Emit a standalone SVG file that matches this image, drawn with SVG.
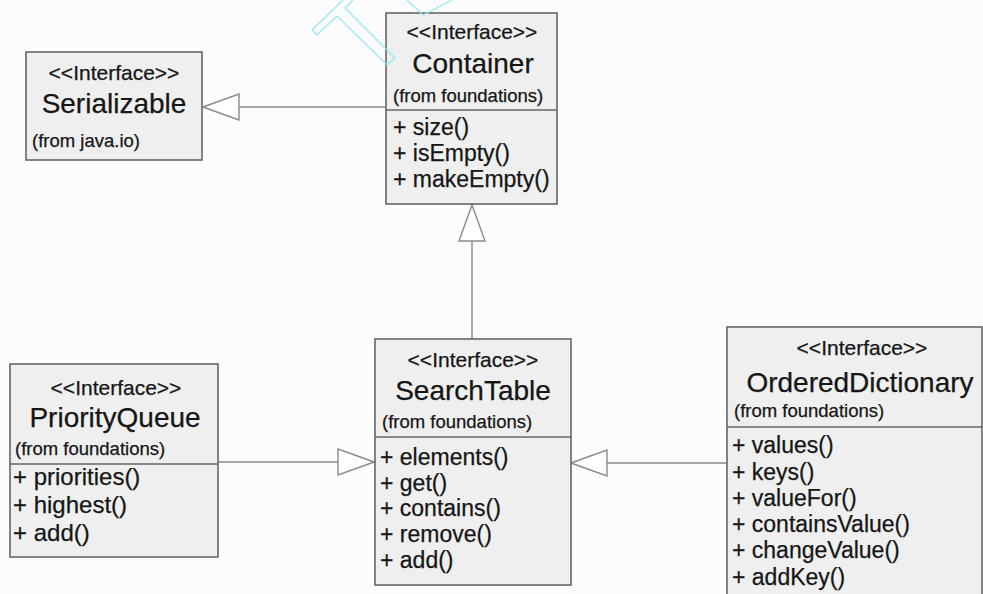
<svg xmlns="http://www.w3.org/2000/svg" width="983" height="594" viewBox="0 0 983 594">
<style>
.box{fill:#efefef;stroke:#666666;stroke-width:1.6}
.div{stroke:#666666;stroke-width:1.6}
.t{font-family:"Liberation Sans",Arial,sans-serif;fill:#161616;stroke:#161616;stroke-width:0.25}
.st{font-size:21px;text-anchor:middle}
.nm{font-size:28px;text-anchor:middle}
.fr{font-size:18.5px}
.op{font-size:23px}
.opl{font-size:24px}
.conn{stroke:#8a8a8a;stroke-width:1.4;fill:none;marker-start:url(#gen)}
.wm{fill:none;stroke:#8ae8f2;stroke-width:1.1}
</style>
<defs>
<marker id="gen" markerUnits="userSpaceOnUse" viewBox="-1 -1 39 28" markerWidth="39" markerHeight="28" refX="0" refY="13" orient="auto">
<path d="M0,13 L36,0 L36,26 Z" fill="#ffffff" stroke="#8a8a8a" stroke-width="1.4"/>
</marker>
</defs>
<rect width="983" height="594" fill="#fcfcfc"/>
<g id="connectors">
<line class="conn" x1="203" y1="107" x2="386" y2="107"/>
<line class="conn" x1="472" y1="205" x2="472" y2="339"/>
<line class="conn" x1="374" y1="462" x2="218" y2="462"/>
<line class="conn" x1="571" y1="463" x2="727" y2="463"/>
</g>
<g id="Serializable">
<rect class="box" x="26" y="52" width="176" height="108"/>
<text class="t st" x="114" y="80">&lt;&lt;Interface&gt;&gt;</text>
<text class="t nm" x="114" y="113">Serializable</text>
<text class="t fr" x="32" y="147">(from java.io)</text>
</g>
<g id="Container">
<rect class="box" x="386" y="13" width="171" height="191"/>
<line class="div" x1="386" y1="110" x2="557" y2="110"/>
<text class="t st" x="472" y="39">&lt;&lt;Interface&gt;&gt;</text>
<text class="t nm" x="473" y="73">Container</text>
<text class="t fr" x="393" y="102">(from foundations)</text>
<text class="t op" x="393" y="135">+ size()</text>
<text class="t op" x="393" y="161">+ isEmpty()</text>
<text class="t op" x="393" y="187">+ makeEmpty()</text>
</g>
<g id="SearchTable">
<rect class="box" x="375" y="339" width="196" height="246"/>
<line class="div" x1="375" y1="437" x2="571" y2="437"/>
<text class="t st" x="473" y="367">&lt;&lt;Interface&gt;&gt;</text>
<text class="t nm" x="473" y="400">SearchTable</text>
<text class="t fr" x="382" y="428">(from foundations)</text>
<text class="t op" x="380" y="465">+ elements()</text>
<text class="t op" x="380" y="491">+ get()</text>
<text class="t op" x="380" y="516">+ contains()</text>
<text class="t op" x="380" y="542">+ remove()</text>
<text class="t op" x="380" y="568">+ add()</text>
</g>
<g id="PriorityQueue">
<rect class="box" x="10" y="364" width="208" height="193"/>
<line class="div" x1="10" y1="464" x2="218" y2="464"/>
<text class="t st" x="116" y="395">&lt;&lt;Interface&gt;&gt;</text>
<text class="t nm" x="115" y="427">PriorityQueue</text>
<text class="t fr" x="15" y="455">(from foundations)</text>
<text class="t opl" x="13" y="485">+ priorities()</text>
<text class="t opl" x="13" y="513">+ highest()</text>
<text class="t opl" x="13" y="541">+ add()</text>
</g>
<g id="OrderedDictionary">
<rect class="box" x="727" y="327" width="255" height="280"/>
<line class="div" x1="727" y1="427" x2="982" y2="427"/>
<text class="t st" x="862" y="355">&lt;&lt;Interface&gt;&gt;</text>
<text class="t nm" x="860" y="392">OrderedDictionary</text>
<text class="t fr" x="734" y="417">(from foundations)</text>
<text class="t op" x="732" y="453">+ values()</text>
<text class="t op" x="732" y="480">+ keys()</text>
<text class="t op" x="732" y="506">+ valueFor()</text>
<text class="t op" x="732" y="532">+ containsValue()</text>
<text class="t op" x="732" y="558">+ changeValue()</text>
<text class="t op" x="732" y="585">+ addKey()</text>
</g>
<polyline class="wm" points="343,0 312,30 317,35 337,16 387,65 395,58 345,8 353,0"/>
<polyline class="wm" points="407,0 423,15 452,0"/>
</svg>
